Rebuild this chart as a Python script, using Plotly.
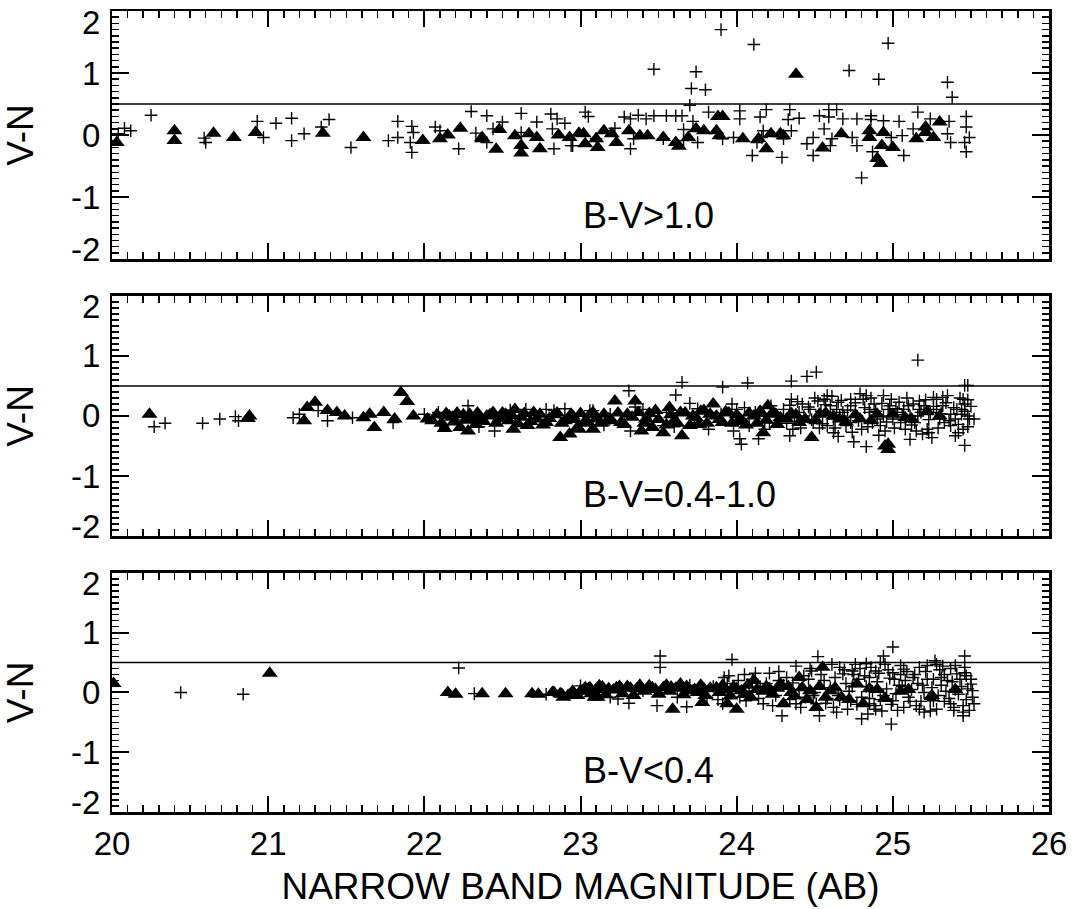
import plotly.graph_objects as go

# ---------------- data ----------------
x_ticks = [20, 21, 22, 23, 24, 25, 26]
y_ticks = [2, 1, 0, -1, -2]
panel_labels = ["B-V>1.0", "B-V=0.4-1.0", "B-V<0.4"]
cut_level = 0.5

# Panel 1: B-V > 1.0
p1_plus = [(20.04,0.02),(20.08,0.11),(20.12,0.07),(20.25,0.32),(20.59,-0.05),(20.60,-0.12),(20.93,0.22),(20.97,-0.04),
    (21.05,0.19),(21.15,0.27),(21.15,-0.09),(21.23,0.02),(21.34,0.13),(21.39,0.25),(21.53,-0.20),(21.77,-0.09),
    (21.83,0.22),(21.83,-0.04),(21.92,0.14),(21.93,0.04),(21.91,-0.12),(21.92,-0.28),(22.07,0.13),(22.10,0.07),
    (22.22,-0.22),(22.30,0.38),(22.33,0.03),(22.40,0.31),(22.40,-0.12),(22.50,0.21),(22.44,0.10),(22.62,0.35),
    (22.62,0.04),(22.72,0.21),(22.81,0.34),(22.85,0.26),(22.90,0.19),(22.82,0.10),(22.83,-0.22),(23.03,0.37),
    (23.05,0.30),(22.94,-0.17),
    (23.90,1.70),(24.11,1.46),(23.47,1.06),(23.74,1.02),(23.71,0.75),(23.80,0.73),(23.70,0.48),(24.97,1.48),
    (24.72,1.04),(24.91,0.90),(25.35,0.85),(25.38,0.61),
    (23.28,0.29),(23.32,0.26),(23.37,0.32),(23.42,0.26),(23.47,0.31),(23.55,0.31),(23.61,0.31),(23.65,0.31),
    (23.72,0.22),(23.82,0.37),(23.66,0.09),(24.02,0.39),(24.02,0.26),(24.15,0.29),(24.19,0.41),(24.34,0.41),
    (24.33,0.25),(24.40,0.27),(24.53,0.31),(24.59,0.41),(24.64,0.41),(24.59,0.29),(24.68,0.26),(24.77,0.26),
    (24.86,0.31),(24.86,0.25),(24.94,0.23),(25.04,0.22),(25.16,0.37),(25.24,0.26),(25.36,0.22),(25.47,0.30),
    (25.47,0.13),(25.49,-0.04),(25.46,-0.12),(25.47,-0.27),(25.37,-0.12),(25.35,0.02),(25.13,0.10),(25.07,-0.33),
    (25.06,-0.01),(24.99,-0.04),(24.80,-0.69),(24.87,-0.27),(24.77,-0.17),(24.74,-0.04),(24.60,-0.17),(24.61,-0.06),
    (24.56,0.10),(24.49,-0.04),(24.45,-0.14),(24.49,-0.33),(24.29,-0.36),(24.35,0.07),(24.30,-0.06),(24.17,0.07),
    (24.16,-0.04),(24.10,-0.33),(24.13,-0.12),(23.98,-0.04),(23.91,-0.06),(23.75,-0.12),(23.66,-0.09),(23.53,-0.06),
    (23.34,-0.06),(23.32,-0.22),(23.22,0.11),(23.10,-0.06),(22.95,-0.17)]
p1_tri = [(20.03,-0.12),(20.40,0.07),(20.40,-0.09),(20.65,0.03),(20.78,-0.04),(20.92,0.04),(21.35,0.03),(21.61,-0.04),
    (21.99,-0.09),(22.10,-0.06),(22.15,0.00),(22.23,0.11),(22.37,-0.04),(22.37,-0.06),(22.46,-0.23),(22.48,0.09),
    (22.58,-0.01),(22.62,-0.17),(22.62,-0.29),(22.67,0.02),(22.72,-0.04),(22.74,-0.22),(22.86,0.00),(22.93,-0.04),
    (22.99,0.03),(23.03,-0.14),(23.10,-0.06),
    (24.38,0.98),(23.02,0.02),(23.11,-0.20),(23.15,0.07),(23.20,0.02),(23.23,-0.12),(23.31,0.07),(23.38,-0.01),
    (23.43,-0.01),(23.53,-0.04),(23.61,-0.12),(23.63,-0.18),(23.69,-0.04),(23.74,0.10),(23.79,0.07),(23.87,0.07),
    (23.88,0.30),(23.91,0.30),(23.89,-0.01),(24.04,-0.06),(24.14,-0.06),(24.19,-0.22),(24.22,0.02),(24.28,0.02),
    (24.30,-0.01),(24.55,-0.21),(24.67,0.02),(24.85,0.07),(24.85,-0.04),(24.93,-0.17),(24.92,-0.46),(24.90,-0.38),
    (24.94,0.04),(25.00,-0.20),(25.15,-0.06),(25.21,0.13),(25.26,-0.04),(25.30,0.21),(25.21,0.04)]

# Panel 2: B-V = 0.4-1.0
p2_plus = [(20.27,-0.18),(20.34,-0.12),(20.58,-0.12),(20.69,-0.05),(20.79,-0.01),(20.81,-0.08),(21.16,-0.03),
    (21.20,0.03),(21.32,0.09),(21.38,-0.08),(21.54,-0.03),(21.80,-0.11),(22.00,0.03),(22.09,0.06),(22.10,-0.11),
    (22.28,0.17),(22.45,-0.25),(22.65,0.11),(22.78,0.11),(23.06,0.09),
    (25.16,0.93),(23.65,0.56),(23.31,0.42),(23.91,0.48),(24.07,0.55),(24.35,0.58),(24.45,0.66),(24.51,0.73),
    (25.46,0.51),(25.48,0.51),(23.61,0.35),(23.70,0.21),(23.97,0.20),(24.35,0.28),(24.42,0.20),(24.02,-0.38),
    (24.03,-0.47),(24.14,-0.38),(24.34,-0.33),(24.62,-0.28),(24.65,-0.34),(24.75,-0.43),(24.83,-0.51),(24.94,0.34),
    (25.11,-0.39),(25.25,-0.36),(25.19,-0.30),(25.46,-0.49),(25.40,-0.33),(25.48,0.00),(25.52,-0.05),(25.45,0.28),
    (25.48,0.27),(25.35,0.34),(25.28,0.28),(25.17,0.25),(25.10,0.17),(25.04,0.23),(24.97,0.11),(24.83,0.34),
    (24.79,0.37),(24.73,0.28),(24.65,0.23),(24.58,0.34),(24.52,0.25),(24.85,0.11),(24.94,0.00),(25.05,-0.11),
    (25.16,0.00),(25.30,-0.05),(25.37,-0.16),(25.22,-0.22),(24.95,-0.25),(24.87,-0.11),(24.73,-0.11),(24.66,0.00),
    (24.58,-0.16),(24.49,-0.11),(24.43,0.00),(24.36,-0.22),(24.30,0.11),(24.21,-0.11),(24.08,-0.16),(24.00,0.11),
    (23.82,-0.22),(23.73,-0.11),(23.32,-0.25),(23.19,0.03),(22.83,0.09),(23.08,0.09),(23.45,0.00),(23.53,-0.16),
    (25.26,0.31),(25.32,0.31),(25.17,0.11),(25.44,0.03),(25.44,0.11),(25.45,-0.22),(25.42,-0.28),
    (24.56,0.28),(24.60,0.17),(24.64,0.11),(24.68,0.06),(24.73,0.17),(24.77,0.00),(24.81,0.28),(24.85,0.06),
    (24.90,-0.05),(24.98,0.17),(25.03,0.06),(25.07,0.11),(25.11,0.00),(25.20,0.17),(25.24,0.06),(25.28,0.11),
    (25.32,0.17),(25.37,0.03),(25.41,0.11),(25.49,-0.05),(24.62,-0.05),(24.70,-0.16),(24.80,-0.22),(24.92,-0.16),
    (25.00,-0.05),(25.08,-0.22),(25.14,-0.11),(25.33,-0.11),(25.40,-0.05),(24.40,0.06),(24.47,0.11),(24.25,0.03),
    (24.12,0.06),(23.90,0.03),(23.55,0.06),(23.40,0.11),(24.53,-0.20),(24.88,0.20),(25.23,-0.28),(25.46,0.20),
    (24.32,-0.12),(24.34,0.18),(24.37,-0.03),(24.39,0.24),(24.41,-0.20),(24.46,0.15),(24.48,-0.06),(24.50,0.30),
    (24.54,0.08),(24.55,-0.13),(24.57,0.19),(24.61,0.33),(24.63,-0.20),(24.67,0.26),(24.69,-0.02),(24.71,0.10),
    (24.74,-0.27),(24.76,0.22),(24.78,-0.08),(24.82,0.14),(24.84,-0.18),(24.86,0.30),(24.89,0.08),(24.91,-0.32),
    (24.93,0.21),(24.96,-0.10),(24.99,0.28),(25.01,-0.20),(25.02,0.12),(25.06,0.02),(25.09,0.30),(25.12,-0.15),
    (25.13,0.20),(25.15,-0.25),(25.18,0.06),(25.21,0.27),(25.23,-0.06),(25.26,0.16),(25.29,-0.20),(25.31,0.04),
    (25.34,0.22),(25.36,-0.08),(25.39,0.14),(25.42,-0.14),(25.43,0.30),(25.46,0.08),(25.48,-0.18),(25.50,0.16),
    (23.98,-0.25),(24.05,0.14),(24.18,-0.22),(24.22,0.17),(23.75,0.12),(23.60,-0.18),(23.35,0.15),(23.15,-0.15),
    (22.90,0.12),(22.55,0.10),(22.35,-0.18)]
p2_tri = [(20.24,0.03),(20.88,0.00),(20.87,-0.04),(21.23,-0.08),(21.25,0.14),(21.30,0.23),(21.38,0.09),(21.44,0.06),
    (21.49,0.00),(21.61,-0.03),(21.65,0.03),(21.68,-0.19),(21.74,0.06),(21.81,-0.05),(21.85,0.39),(21.89,0.24),
    (21.93,0.00),(22.02,-0.05),(22.13,-0.21),(22.16,0.00),(22.23,-0.19),(22.28,-0.25),(22.36,-0.03),(22.44,0.06),
    (22.57,-0.22),(22.58,0.11),(22.66,-0.16),(22.70,0.06),(22.78,-0.11),(22.87,-0.36),(22.93,-0.30),(22.95,0.00),
    (22.99,-0.22),(23.08,0.06),(22.18,-0.02),(22.25,0.02),(22.31,-0.05),(22.40,0.00),(22.48,-0.04),(22.52,0.03),
    (22.62,-0.02),(22.72,-0.05),(22.83,0.02),(22.90,-0.08),(23.02,-0.12),
    (22.94,0.03),(22.98,-0.19),(23.08,-0.22),(23.10,-0.05),(23.18,-0.05),(23.22,0.25),(23.26,-0.11),(23.35,0.25),
    (23.39,-0.25),(23.46,-0.19),(23.48,0.09),(23.53,-0.28),(23.57,0.14),(23.64,0.06),(23.65,-0.33),(23.72,0.00),
    (23.79,0.09),(23.85,0.20),(23.87,0.00),(23.91,-0.11),(24.02,-0.05),(24.11,0.00),(24.17,-0.28),(24.20,0.17),
    (24.23,0.06),(24.28,-0.03),(24.48,-0.36),(24.97,-0.47),(24.97,-0.56),(24.95,-0.50),(25.30,0.00),(24.79,-0.05),
    (24.90,0.03),(24.62,0.00),(24.51,-0.08),(24.40,-0.11),(23.30,0.03),(23.42,-0.05),(23.60,-0.08),(23.76,-0.14),
    (23.95,0.05),(24.06,-0.15),(24.15,0.08),(24.35,0.04),(24.57,0.05),(24.70,-0.10),(25.08,-0.03),(25.22,0.07),
    (22.05,-0.08),(22.08,0.02),(22.11,-0.12),(22.14,0.04),(22.19,-0.10),(22.21,0.05),(22.26,-0.07),(22.29,0.03),
    (22.33,-0.14),(22.34,0.05),(22.38,-0.09),(22.42,0.02),(22.46,-0.12),(22.50,0.05),(22.54,-0.08),(22.56,0.01),
    (22.60,-0.13),(22.64,0.04),(22.68,-0.09),(22.74,0.03),(22.76,-0.15),(22.80,-0.04),(22.85,0.05),(22.88,-0.12),
    (22.96,-0.06),(23.00,0.04),(23.04,-0.09),(23.06,0.02),(23.13,-0.12),(23.15,0.03),(23.20,-0.08),(23.24,0.05),
    (23.28,-0.14),(23.33,-0.02),(23.37,0.06),(23.41,-0.12),(23.44,0.04),(23.50,-0.06),(23.55,-0.15),(23.58,0.02),
    (23.62,-0.12),(23.67,0.05),(23.70,-0.16),(23.74,-0.03),(23.77,0.08),(23.81,-0.12),(23.83,0.03),(23.89,-0.06),
    (23.93,0.07),(23.97,-0.12),(24.00,0.02),(24.04,-0.09),(24.08,0.05),(24.13,-0.12),(24.16,0.04),(24.19,-0.07),
    (24.25,0.03),(24.26,-0.14),(24.32,-0.05),(24.38,0.02),(24.44,-0.06),(24.53,0.03),(24.66,-0.05),(24.76,0.02),
    (24.86,-0.08),(25.00,0.03),(25.12,-0.05)]

# Panel 3: B-V < 0.4
p3_plus = [(20.44,0.00),(20.84,-0.03),(22.22,0.41),(22.32,-0.02),(22.78,-0.03),(23.00,0.04),
    (23.51,0.61),(23.51,0.42),(23.97,0.55),(24.52,0.60),(25.00,0.76),(24.94,0.61),(25.46,0.61),(24.38,0.44),
    (24.48,0.36),(24.12,0.32),(24.21,0.32),(24.61,0.47),(24.74,0.36),(24.76,0.47),(24.89,0.36),(24.95,0.47),
    (25.07,0.39),(25.17,0.42),(25.27,0.53),(25.28,0.47),(25.46,0.33),(23.95,0.28),(24.99,-0.53),(24.80,-0.44),
    (24.84,-0.36),(24.29,-0.39),(24.53,-0.39),(25.45,-0.39),(25.45,-0.33),(25.20,-0.33),(25.24,-0.31),(24.64,-0.33),
    (24.93,-0.31),(23.31,-0.18),(23.49,-0.22),(23.68,-0.24),(23.24,-0.11),(23.00,0.11),(23.92,0.25),(24.01,0.20),
    (24.32,0.25),(24.43,0.28),(24.68,0.31),(24.85,0.25),(25.00,0.33),(25.13,0.25),(25.31,0.25),(25.41,0.31),
    (25.50,0.14),(25.51,0.03),(25.51,-0.08),(25.52,-0.19),(25.37,-0.19),(25.26,-0.14),(25.07,-0.25),(25.00,-0.14),
    (24.85,-0.19),(24.73,-0.14),(24.62,-0.25),(24.51,-0.19),(24.38,-0.19),(24.17,-0.19),(24.06,-0.14),(23.91,-0.19),
    (23.81,-0.08),(23.62,-0.08),(23.19,-0.08),
    (24.56,0.20),(24.60,0.08),(24.65,-0.05),(24.70,0.15),(24.72,0.02),(24.78,0.22),(24.80,-0.08),(24.83,0.10),
    (24.87,0.02),(24.90,0.18),(24.92,-0.12),(24.96,0.06),(24.98,0.24),(25.02,-0.02),(25.04,0.12),(25.08,0.20),
    (25.10,-0.08),(25.12,0.05),(25.16,0.15),(25.18,-0.15),(25.20,0.00),(25.22,0.22),(25.25,0.08),(25.29,-0.05),
    (25.31,0.12),(25.34,0.02),(25.36,-0.10),(25.38,0.18),(25.40,0.05),(25.42,-0.03),(25.44,0.10),(25.47,-0.12),
    (25.48,0.06),(24.40,0.05),(24.44,-0.08),(24.30,0.12),(24.25,-0.05),(24.15,0.10),(24.08,0.02),(23.85,0.10),
    (23.70,0.12),(23.40,0.03),(24.50,0.00),(24.58,-0.10),(24.75,0.30),(24.88,-0.22),(25.05,0.30),(25.15,-0.22),
    (25.33,0.30),(25.39,-0.25),
    (23.88,-0.12),(23.94,0.15),(24.02,-0.08),(24.10,0.22),(24.14,-0.10),(24.19,0.15),(24.23,-0.22),(24.27,0.20),
    (24.34,-0.12),(24.36,0.16),(24.41,-0.25),(24.46,0.22),(24.49,-0.05),(24.54,0.30),(24.57,-0.18),(24.63,0.25),
    (24.66,-0.12),(24.69,0.38),(24.71,-0.28),(24.74,0.10),(24.77,-0.20),(24.79,0.40),(24.82,0.28),(24.85,-0.10),
    (24.86,0.42),(24.89,-0.28),(24.91,0.32),(24.94,-0.05),(24.97,0.38),(24.99,-0.20),(25.01,0.22),(25.03,-0.30),
    (25.06,0.10),(25.09,0.35),(25.11,-0.15),(25.14,0.30),(25.17,-0.28),(25.19,0.12),(25.21,0.35),(25.24,-0.12),
    (25.26,0.22),(25.28,-0.28),(25.30,0.38),(25.33,-0.15),(25.35,0.20),(25.37,0.40),(25.39,-0.30),(25.43,0.22),
    (25.45,-0.22),(25.47,0.28),(25.49,-0.30),(25.50,0.22),(25.46,0.42),(25.40,0.45),(25.32,0.44),(25.22,0.45),
    (25.05,0.45),(24.92,0.50),(24.83,0.48),(24.66,0.42),(24.47,0.40),(24.27,0.35),(24.05,0.30)]
p3_tri = [(20.01,0.15),(21.01,0.32),(22.15,0.00),(22.20,-0.03),(22.37,-0.02),(22.52,-0.02),(22.69,-0.02),(22.73,-0.03),
    (22.82,0.00),(22.87,-0.02),(22.89,-0.08),(22.93,-0.04),(23.00,0.02),(23.05,0.06),(23.09,-0.08),
    (24.55,0.42),(23.59,-0.28),(24.00,-0.28),(23.78,-0.17),(23.94,-0.19),(24.51,-0.25),(22.83,0.00),(22.88,-0.03),
    (22.92,-0.05),(23.01,0.03),(23.06,0.08),(23.12,0.11),(23.11,-0.08),(23.23,0.08),(23.36,0.06),(23.44,0.11),
    (23.53,0.08),(23.64,0.14),(23.70,0.03),(23.79,0.06),(23.87,0.08),(24.00,0.06),(24.11,0.20),(24.21,0.06),
    (24.28,0.14),(24.30,-0.19),(24.40,0.25),(24.47,0.03),(24.60,0.03),(24.67,-0.08),(24.77,0.14),(24.81,-0.19),
    (23.18,0.06),(23.30,0.10),(23.48,0.05),(23.58,0.09),(23.75,0.00),(23.92,0.04),(24.05,-0.02),(24.17,0.02),
    (24.35,0.00),(24.90,0.05),(25.05,0.02),
    (22.95,0.02),(22.98,-0.05),(23.03,0.08),(23.07,-0.02),(23.10,0.05),(23.14,0.09),(23.16,-0.04),(23.21,0.04),
    (23.25,0.10),(23.27,-0.02),(23.32,0.07),(23.34,-0.05),(23.38,0.12),(23.41,0.02),(23.46,0.08),(23.50,-0.03),
    (23.55,0.12),(23.57,0.02),(23.61,0.07),(23.66,-0.04),(23.68,0.10),(23.73,0.05),(23.77,0.12),(23.80,-0.05),
    (23.83,0.07),(23.89,0.00),(23.91,0.12),(23.96,-0.06),(23.98,0.09),(24.03,0.03),(24.07,0.12),(24.09,-0.08),
    (24.13,0.05),(24.19,0.10),(24.23,-0.03),(24.26,0.07),(24.33,0.10),(24.37,-0.06),(24.42,0.08),(24.45,-0.12),
    (24.53,0.10),(24.57,-0.08),(24.63,0.08),(24.72,-0.12),(24.85,0.06),(24.95,-0.10),(25.10,0.05),(25.25,-0.05),
    (25.40,0.05)]

# ---------------- figure ----------------
fig = go.Figure()
FONT = "Arial, Liberation Sans, Helvetica, sans-serif"
panels = [(p1_plus, p1_tri), (p2_plus, p2_tri), (p3_plus, p3_tri)]
for i, (plus, tri) in enumerate(panels):
    xa = "x" if i == 0 else f"x{i+1}"
    ya = "y" if i == 0 else f"y{i+1}"
    fig.add_trace(go.Scatter(x=[x_ticks[0], x_ticks[-1]], y=[cut_level, cut_level], mode="lines",
                             line=dict(color="black", width=1.5), xaxis=xa, yaxis=ya, showlegend=False,
                             hoverinfo="skip"))
    fig.add_trace(go.Scatter(x=[p[0] for p in plus], y=[p[1] for p in plus], mode="markers",
                             marker=dict(symbol="cross-thin", size=9, line=dict(color="black", width=1.4)),
                             xaxis=xa, yaxis=ya, showlegend=False, cliponaxis=True))
    fig.add_trace(go.Scatter(x=[p[0] for p in tri], y=[p[1] for p in tri], mode="markers",
                             marker=dict(symbol="triangle-up", size=14, color="black"),
                             xaxis=xa, yaxis=ya, showlegend=False, cliponaxis=True))

domains = [[0.6903, 1.0], [0.3445, 0.6443], [0.0, 0.2985]]

def xaxis_cfg(show_labels, anchor):
    d = dict(range=[20, 26], tickmode="array", tickvals=x_ticks, ticktext=[str(v) for v in x_ticks],
             ticks="inside", ticklen=16, tickwidth=2, tickcolor="black",
             minor=dict(dtick=0.1, tick0=20, ticks="inside", ticklen=7, tickwidth=1.5, tickcolor="black"),
             showline=True, linewidth=2.5, linecolor="black", mirror="allticks",
             showgrid=False, zeroline=False, showticklabels=show_labels, anchor=anchor,
             tickfont=dict(family=FONT, size=33, color="black"), domain=[0, 1])
    if show_labels:
        d["ticklabelstandoff"] = 1
        d["title"] = dict(text="NARROW BAND MAGNITUDE (AB)", font=dict(family=FONT, size=37, color="black"),
                          standoff=12)
    return d

def yaxis_cfg(domain, anchor):
    return dict(range=[-2, 2], domain=domain, anchor=anchor, tickvals=y_ticks,
                ticks="inside", ticklen=17, tickwidth=2, tickcolor="black",
                minor=dict(dtick=0.1, tick0=0, ticks="inside", ticklen=7, tickwidth=1.5, tickcolor="black"),
                showline=True, linewidth=2.5, linecolor="black", mirror="allticks",
                showgrid=False, zeroline=False, showticklabels=False,
                title=dict(text="V-N", font=dict(family=FONT, size=37, color="black"), standoff=72))

fig.update_layout(
    xaxis=xaxis_cfg(False, "y"), xaxis2=xaxis_cfg(False, "y2"), xaxis3=xaxis_cfg(True, "y3"),
    yaxis=yaxis_cfg(domains[0], "x"), yaxis2=yaxis_cfg(domains[1], "x2"), yaxis3=yaxis_cfg(domains[2], "x3"),
    width=1078, height=909, margin=dict(l=112, r=29, t=8, b=97),
    paper_bgcolor="white", plot_bgcolor="white", showlegend=False,
    font=dict(family=FONT, color="black"),
)

annotations = []
for i in range(3):
    ya = "y" if i == 0 else f"y{i+1}"
    xa = "x" if i == 0 else f"x{i+1}"
    for v in y_ticks:
        shift = -11 if v == y_ticks[0] else (10 if v == y_ticks[-1] else 0)
        annotations.append(dict(text=str(v), xref="paper", yref=ya, x=0, y=v, xanchor="right",
                                yanchor="middle", xshift=-10, yshift=shift, showarrow=False,
                                font=dict(family=FONT, size=33, color="black")))
    annotations.append(dict(text=panel_labels[i], xref=xa, yref=ya, x=23.0, y=-1.3, xanchor="left",
                            yanchor="middle", showarrow=False, font=dict(family=FONT, size=36, color="black")))
fig.update_layout(annotations=annotations)

fig.write_html("out.html", config={"displayModeBar": False, "staticPlot": True})
# remove the browser's default page margin so the figure sits at the window's corner
with open("out.html", "r", encoding="utf-8") as fh:
    html = fh.read()
html = html.replace("<body>", '<body style="margin:0;padding:0;overflow:hidden">', 1)
with open("out.html", "w", encoding="utf-8") as fh:
    fh.write(html)
